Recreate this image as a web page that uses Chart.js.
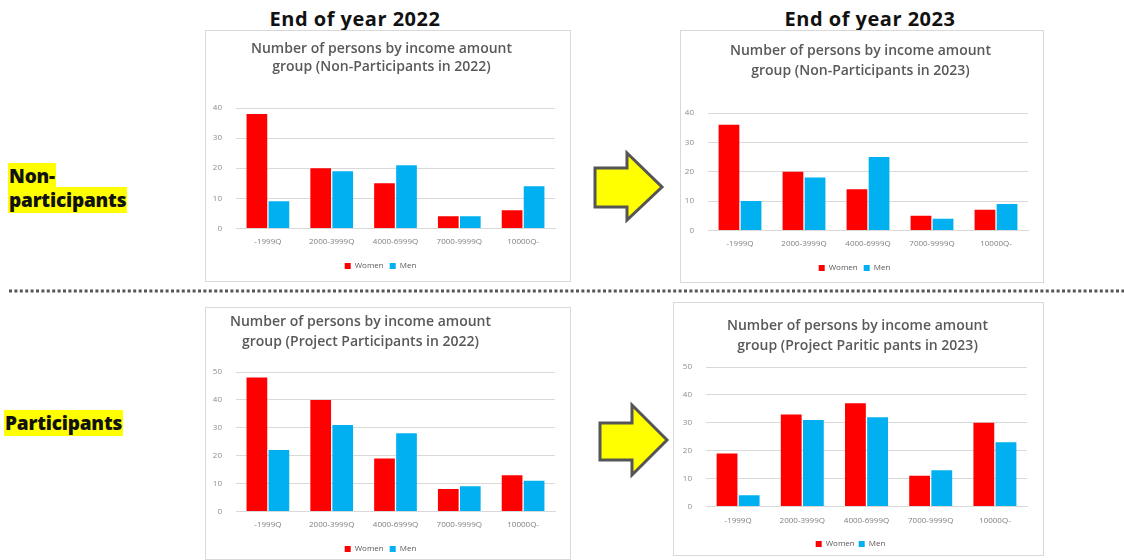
<!DOCTYPE html>
<html>
<head>
<meta charset="utf-8">
<script src="https://cdn.jsdelivr.net/npm/chart.js@4/dist/chart.umd.min.js"></script>
<style>
  html, body { margin: 0; padding: 0; background: #fff; }
  body { width: 1124px; height: 560px; position: relative; overflow: hidden; font-family: "Open Sans", "DejaVu Sans", sans-serif; }
  .box { position: absolute; border: 1px solid #d9d9d9; box-sizing: border-box; background: #fff; }
  .box canvas { position: absolute; left: 0; top: 0; }
  .hdr { position: absolute; font-weight: 700; font-size: 20px; line-height: 27px; letter-spacing: 0.5px; color: #111; white-space: nowrap; transform: translateX(-50%); }
  .lbl { position: absolute; font-weight: 800; font-size: 19px; color: #111; line-height: 24px; letter-spacing: -0.2px; }
  .lbl span { background: #ffff00; padding: 0 1px; }
  svg.deco { position: absolute; left: 0; top: 0; }
</style>
</head>
<body>
<svg class="deco" width="1124" height="560">
  <line x1="9" y1="291" x2="1124" y2="291" stroke="#555" stroke-width="3" stroke-dasharray="3 2.4"/>
  <polygon points="595,168 627,168 627,153 662,187 627,220 627,207 595,207" fill="#ffff00" stroke="#555" stroke-width="3" stroke-linejoin="miter"/>
  <polygon points="600,423 632,423 632,405 667,440 632,475 632,460 600,460" fill="#ffff00" stroke="#555" stroke-width="3" stroke-linejoin="miter"/>
</svg>
<div class="hdr" style="left:355px; top:5px;">End of year 2022</div>
<div class="hdr" style="left:870px; top:5px;">End of year 2023</div>
<div class="lbl" style="left:8px; top:164px;"><span>Non-</span><br><span>participants</span></div>
<div class="lbl" style="left:4px; top:411px;"><span>Participants</span></div>

<div class="box" id="b1" style="left:205px; top:30px; width:366px; height:252px;"><canvas id="c1"></canvas></div>
<div class="box" id="b2" style="left:680px; top:30px; width:364px; height:253px;"><canvas id="c2"></canvas></div>
<div class="box" id="b3" style="left:205px; top:307px; width:366px; height:253px;"><canvas id="c3"></canvas></div>
<div class="box" id="b4" style="left:673px; top:302px; width:371px; height:254px;"><canvas id="c4"></canvas></div>

<script>
// ---- data ----
const categories = ["-1999Q", "2000-3999Q", "4000-6999Q", "7000-9999Q", "10000Q-"];
const seriesNames = ["Women", "Men"];

const nonPart2022Women = [38, 20, 15, 4, 6];
const nonPart2022Men   = [9, 19, 21, 4, 14];
const nonPart2023Women = [36, 20, 14, 5, 7];
const nonPart2023Men   = [10, 18, 25, 4, 9];
const part2022Women    = [48, 40, 19, 8, 13];
const part2022Men      = [22, 31, 28, 9, 11];
const part2023Women    = [19, 33, 37, 11, 30];
const part2023Men      = [4, 31, 32, 13, 23];

const yTicks40 = [0, 10, 20, 30, 40];
const yTicks50 = [0, 10, 20, 30, 40, 50];

const title1 = ["Number of persons by income amount", "group (Non-Participants in 2022)"];
const title2 = ["Number of persons by income amount", "group (Non-Participants in 2023)"];
const title3 = ["Number of persons by income amount", "group (Project Participants in 2022)"];
const title4 = ["Number of persons by income amount", "group (Project Paritic pants in 2023)"];

// ---- styling ----
const RED = "#ff0000", BLUE = "#00b0f0";

// shifts the title block horizontally after layout (title centred off the chart centre)
const titleShift = {
  id: "titleShift",
  afterLayout(chart, args, opts) {
    const tb = chart.titleBlock;
    if (tb && opts && opts.dx) { tb.left += opts.dx; tb.right += opts.dx; }
  }
};

function makeChart(canvasId, boxId, title, women, men, yTicks, L) {
  const box = document.getElementById(boxId);
  const cv = document.getElementById(canvasId);
  const W = box.clientWidth, H = box.clientHeight;
  cv.width = W; cv.height = H;
  cv.style.width = W + "px"; cv.style.height = H + "px";
  const yMax = yTicks[yTicks.length - 1];
  return new Chart(cv, {
    type: "bar",
    data: {
      labels: categories,
      datasets: [
        { label: seriesNames[0], data: women, backgroundColor: RED, borderWidth: 0 },
        { label: seriesNames[1], data: men, backgroundColor: BLUE, borderWidth: 0 }
      ]
    },
    plugins: [titleShift],
    options: {
      responsive: false,
      animation: false,
      devicePixelRatio: 1,
      datasets: { bar: { categoryPercentage: 0.69, barPercentage: 0.94 } },
      layout: { padding: { left: 0, right: L.right, top: 0, bottom: L.bottom } },
      plugins: {
        titleShift: { dx: L.dx },
        title: {
          display: true, text: title, color: "#595959",
          font: { family: "'Open Sans', sans-serif", size: 14, weight: "600", lineHeight: L.lh / 14 },
          padding: { top: L.tTop, bottom: L.tBottom }
        },
        legend: {
          position: "bottom",
          labels: {
            boxWidth: 6, boxHeight: 6, padding: L.legPad, color: "#595959",
            font: { family: "'Open Sans', sans-serif", size: 8 }
          }
        },
        tooltip: { enabled: false }
      },
      scales: {
        x: {
          grid: { display: false, drawTicks: false },
          border: { display: true, color: "#d9d9d9" },
          ticks: { color: "#7f7f7f", padding: L.xPad, maxRotation: 0, autoSkip: false,
                   font: { family: "'Open Sans', sans-serif", size: 8 } }
        },
        y: {
          min: 0, max: yMax,
          afterFit: (s) => { s.width = L.left; },
          afterBuildTicks: (s) => { s.ticks = yTicks.map(v => ({ value: v })); },
          grid: { color: "#d9d9d9", drawTicks: false },
          border: { display: false },
          ticks: { color: "#8c8c8c", padding: L.yPad,
                   font: { family: "'Open Sans', sans-serif", size: 8 } }
        }
      }
    }
  });
}

makeChart("c1", "b1", title1, nonPart2022Women, nonPart2022Men, yTicks40,
  { left: 30, right: 15, bottom: 1, tTop: 9.5, tBottom: 32.5, lh: 17.5, dx: 1, legPad: 6, xPad: 9, yPad: 14 });
makeChart("c2", "b2", title2, nonPart2023Women, nonPart2023Men, yTicks40,
  { left: 27, right: 15, bottom: 0, tTop: 10, tBottom: 32, lh: 20, dx: 6, legPad: 6, xPad: 9, yPad: 14 });
makeChart("c3", "b3", title3, part2022Women, part2022Men, yTicks50,
  { left: 30, right: 15, bottom: -4, tTop: 3.75, tBottom: 19.25, lh: 20.5, dx: -20, legPad: 6, xPad: 9, yPad: 14 });
makeChart("c4", "b4", title4, part2023Women, part2023Men, yTicks50,
  { left: 32, right: 16, bottom: -3, tTop: 13, tBottom: 11, lh: 20, dx: 7, legPad: 4, xPad: 10, yPad: 14 });
</script>
</body>
</html>
